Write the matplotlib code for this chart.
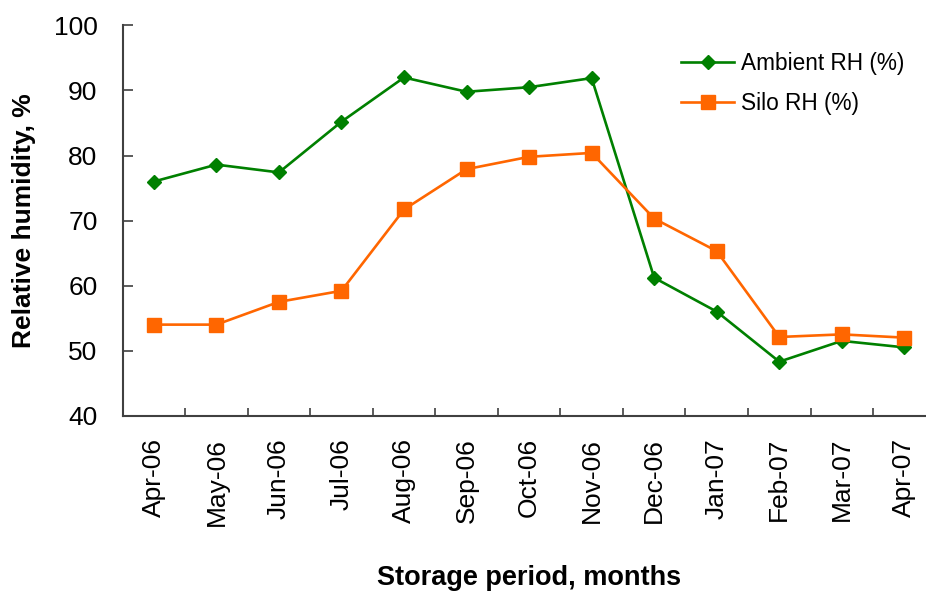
import numpy as np
import matplotlib
matplotlib.use('Agg')
from matplotlib import pyplot as plt

plt.rcParams['font.family'] = ['Liberation Sans', 'DejaVu Sans']

months = ['Apr-06', 'May-06', 'Jun-06', 'Jul-06', 'Aug-06', 'Sep-06', 'Oct-06',
          'Nov-06', 'Dec-06', 'Jan-07', 'Feb-07', 'Mar-07', 'Apr-07']
ambient_rh = [76.0, 78.6, 77.4, 85.2, 92.0, 89.8, 90.5, 91.9, 61.2, 56.0, 48.3, 51.5, 50.5]
silo_rh = [54.0, 54.0, 57.5, 59.2, 71.7, 77.9, 79.8, 80.4, 70.3, 65.3, 52.1, 52.5, 52.0]

fig = plt.figure(figsize=(9.26, 5.94), dpi=100)
ax = fig.add_axes([0.1324, 0.3002, 0.878, 0.657])

x = np.arange(len(months))
ax.plot(x, ambient_rh, color='#008000', lw=1.9, marker='D', ms=7, label='Ambient RH (%)')
ax.plot(x, silo_rh, color='#FF6600', lw=1.9, marker='s', ms=10, label='Silo RH (%)')

ax.set_xlim(-0.5, len(months) - 0.5)
ax.set_ylim(40, 100)
ax.set_yticks(np.arange(40, 101, 10))
ax.set_xticks(x)
ax.set_xticklabels(months, rotation=90)
ax.set_xticks(np.arange(0.5, len(months) - 1, 1), minor=True)

ax.tick_params(axis='x', which='major', length=0, pad=16, labelsize=19)
ax.tick_params(axis='x', which='minor', direction='in', length=6, width=1.2, color='#404040')
ax.tick_params(axis='y', direction='in', length=7, width=1.2, color='#404040', pad=18, labelsize=19)

for s in ['top', 'right']:
    ax.spines[s].set_visible(False)
for s in ['left', 'bottom']:
    ax.spines[s].set_color('#404040')
    ax.spines[s].set_linewidth(1.5)

ax.set_ylabel('Relative humidity, %', fontsize=19, fontweight='bold', labelpad=13)
fig.text(0.571, 0.027, 'Storage period, months', fontsize=19.5, fontweight='bold',
         ha='center', va='center')

ax.legend(loc='upper left', bbox_to_anchor=(0.662, 0.985), frameon=False, fontsize=16.3,
          handlelength=2.35, handletextpad=0.3, labelspacing=0.75)

fig.savefig('out.png', dpi=100)
